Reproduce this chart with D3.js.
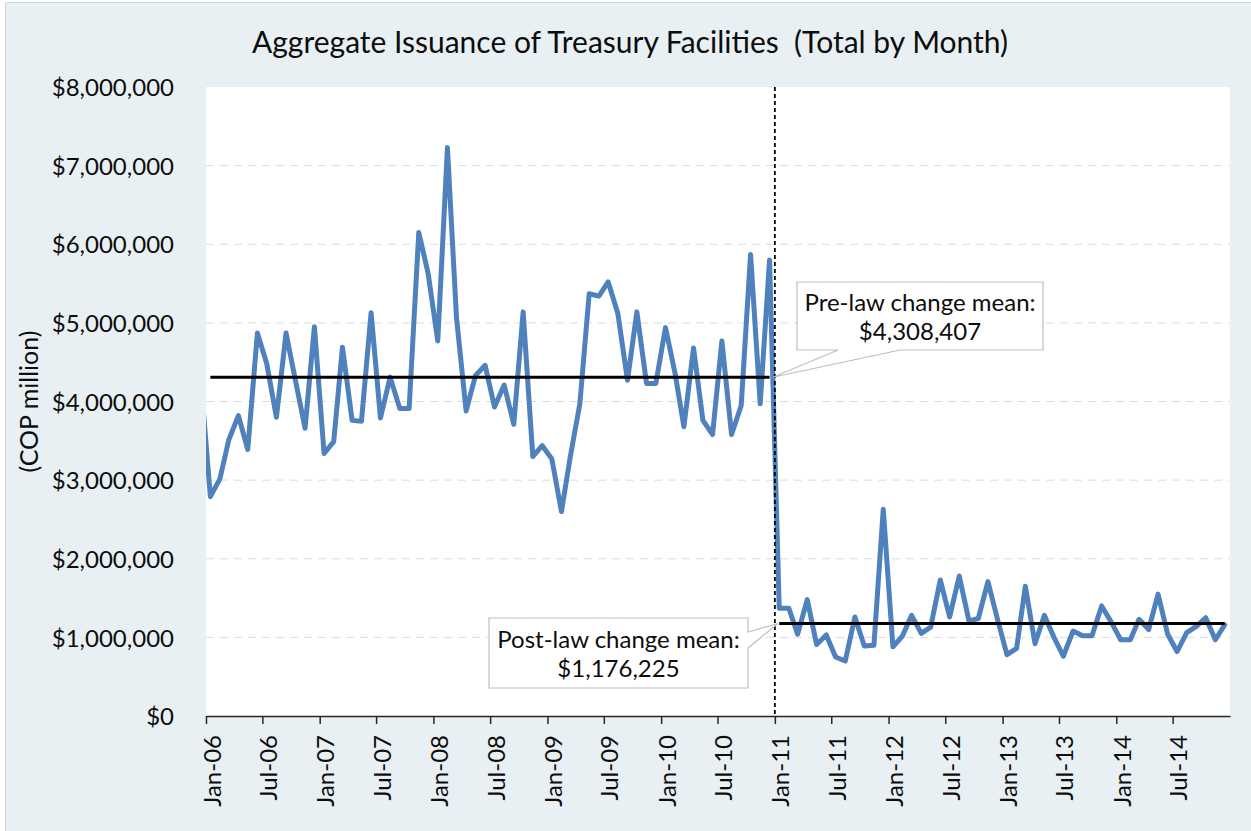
<!DOCTYPE html>
<html>
<head>
<meta charset="utf-8">
<script src="https://cdn.jsdelivr.net/npm/d3@7/dist/d3.min.js"></script>
<style>
  body { margin: 0; background: #fff; }
  text { font-family: Lato, "Noto Sans", sans-serif; fill: #0d0d0d; }
</style>
</head>
<body>
<div id="chart"></div>
<script>
// Monthly issuance (COP million). Series starts Dec-05, which sits just left of the axis.
var firstMonth = "2005-12";
var v2005 = [4300000];
var v2006 = [2790000, 3020000, 3510000, 3820000, 3390000, 4870000, 4480000, 3800000, 4870000, 4270000, 3660000, 4950000];
var v2007 = [3340000, 3490000, 4690000, 3760000, 3750000, 5130000, 3790000, 4310000, 3910000, 3910000, 6150000, 5630000];
var v2008 = [4770000, 7230000, 5070000, 3880000, 4330000, 4460000, 3930000, 4210000, 3710000, 5140000, 3300000, 3440000];
var v2009 = [3270000, 2600000, 3290000, 3970000, 5370000, 5340000, 5520000, 5120000, 4270000, 5140000, 4230000, 4230000];
var v2010 = [4940000, 4350000, 3680000, 4680000, 3760000, 3580000, 4770000, 3580000, 3950000, 5870000, 3970000, 5800000];
var v2011 = [1370000, 1370000, 1040000, 1480000, 910000, 1030000, 750000, 700000, 1260000, 890000, 900000, 2630000];
var v2012 = [880000, 1020000, 1280000, 1050000, 1130000, 1730000, 1260000, 1780000, 1210000, 1240000, 1710000, 1240000];
var v2013 = [780000, 860000, 1650000, 920000, 1280000, 1000000, 760000, 1080000, 1020000, 1020000, 1400000, 1200000];
var v2014 = [970000, 970000, 1230000, 1100000, 1550000, 1040000, 820000, 1060000, 1140000, 1250000, 970000, 1160000];

var lawChange = "2011-01-01";
var axisStart = "2006-01-01", axisEnd = "2015-01-01";
var meanLabels = ["Pre-law change mean:", "Post-law change mean:"];
var meanValues = [4308407, 1176225];
var yTicks = [0, 1000000, 2000000, 3000000, 4000000, 5000000, 6000000, 7000000, 8000000];

var width = 1251, height = 831;
var plot = {left: 206, right: 1230, top: 87, bottom: 716};

var parseDay = d3.timeParse("%Y-%m-%d");
var parseMonth = d3.timeParse("%Y-%m");
var law = parseDay(lawChange);

// points are plotted mid-month on a date axis
var values = [].concat(v2005, v2006, v2007, v2008, v2009, v2010, v2011, v2012, v2013, v2014);
var data = values.map(function(v, i) {
  return {date: d3.timeDay.offset(d3.timeMonth.offset(parseMonth(firstMonth), i), 14), value: v};
});
var pre = data.filter(function(d) { return d.date >= parseDay(axisStart) && d.date < law; });
var post = data.filter(function(d) { return d.date >= law; });

var svg = d3.select("#chart").append("svg")
    .attr("width", width)
    .attr("height", height);

// chart area background
svg.append("rect")
    .attr("x", 5.5).attr("y", 2.5)
    .attr("width", width).attr("height", height)
    .attr("fill", "#e8f0f3")
    .attr("stroke", "#d3d6d8");

svg.append("rect")
    .attr("x", plot.left).attr("y", plot.top)
    .attr("width", plot.right - plot.left).attr("height", plot.bottom - plot.top)
    .attr("fill", "#fff");

svg.append("clipPath").attr("id", "plotclip")
  .append("rect")
    .attr("x", plot.left).attr("y", plot.top - 10)
    .attr("width", plot.right - plot.left).attr("height", plot.bottom - plot.top + 10);

var x = d3.scaleTime()
    .domain([parseDay(axisStart), parseDay(axisEnd)])
    .range([plot.left, plot.right]);

var y = d3.scaleLinear()
    .domain([0, 8000000])
    .range([plot.bottom, plot.top]);

// dashed gridlines
svg.append("g")
  .selectAll("line")
  .data(yTicks.filter(function(t) { return t > 0 && t < 8000000; }))
  .enter().append("line")
    .attr("x1", plot.left).attr("x2", plot.right)
    .attr("y1", function(d) { return y(d); })
    .attr("y2", function(d) { return y(d); })
    .attr("stroke", "#dcdcdc")
    .attr("stroke-width", 1)
    .attr("stroke-dasharray", "8,6");

// Y axis labels
var yAxis = svg.append("g")
    .attr("transform", "translate(" + plot.left + ",0)")
    .call(d3.axisLeft(y).tickValues(yTicks).tickSize(0).tickPadding(32).tickFormat(d3.format("$,.0f")));
yAxis.select(".domain").remove();
yAxis.selectAll("text")
    .attr("font-size", 24)
    .attr("font-family", "Lato, sans-serif")
    .attr("fill", "#0d0d0d")
    .attr("dy", "0.36em");

// X axis, a tick every six months (last one at Jul-14)
var xTicks = d3.timeMonth.every(6).range(parseDay(axisStart), parseDay(axisEnd));
var xAxis = svg.append("g")
    .attr("transform", "translate(0," + plot.bottom + ")")
    .call(d3.axisBottom(x)
      .tickValues(xTicks)
      .tickFormat(d3.timeFormat("%b-%y"))
      .tickSize(8)
      .tickSizeOuter(0));
xAxis.select(".domain").attr("stroke", "#262626").attr("stroke-width", 1.5);
xAxis.selectAll(".tick line").attr("stroke", "#262626").attr("stroke-width", 1.5);
xAxis.selectAll("text")
    .attr("font-size", 24)
    .attr("font-family", "Lato, sans-serif")
    .attr("fill", "#0d0d0d")
    .attr("transform", "rotate(-90)")
    .attr("text-anchor", "end")
    .attr("x", -19)
    .attr("y", 14)
    .attr("dy", "0");

// the series
var line = d3.line()
    .x(function(d) { return x(d.date); })
    .y(function(d) { return y(d.value); });

svg.append("path")
    .datum(data)
    .attr("clip-path", "url(#plotclip)")
    .attr("fill", "none")
    .attr("stroke", "#4f81bd")
    .attr("stroke-width", 5)
    .attr("stroke-linejoin", "round")
    .attr("stroke-linecap", "round")
    .attr("d", line);

// period means
[pre, post].forEach(function(period, k) {
  svg.append("path")
    .datum(period)
    .attr("fill", "none")
    .attr("stroke", "#000")
    .attr("stroke-width", 3)
    .attr("d", d3.line()
      .x(function(d) { return x(d.date); })
      .y(function() { return y(meanValues[k]); }));
});

// law change marker
svg.append("line")
    .attr("x1", x(law)).attr("x2", x(law))
    .attr("y1", plot.top).attr("y2", plot.bottom)
    .attr("stroke", "#000")
    .attr("stroke-width", 1.8)
    .attr("stroke-dasharray", "4,3");

// callouts
var fmt = d3.format("$,.0f");
var preTip = [x(law) - 2, y(meanValues[0])];
var postTip = [x(law) + 3, y(meanValues[1])];

svg.append("path")
    .attr("d", "M797,282H1043V350H900L" + preTip[0] + "," + preTip[1] + "L838,350H797Z")
    .attr("fill", "#fff")
    .attr("stroke", "#bfbfbf")
    .attr("stroke-width", 1.2);

svg.append("path")
    .attr("d", "M489,618H748V632L" + postTip[0] + "," + postTip[1] + "L748,648V688H489Z")
    .attr("fill", "#fff")
    .attr("stroke", "#bfbfbf")
    .attr("stroke-width", 1.2);

var boxes = [{cx: 920, y: 311}, {cx: 618.5, y: 648}];
boxes.forEach(function(b, k) {
  var t = svg.append("text")
      .attr("text-anchor", "middle")
      .attr("font-size", 24);
  t.append("tspan").attr("x", b.cx).attr("y", b.y).text(meanLabels[k]);
  t.append("tspan").attr("x", b.cx).attr("y", b.y + 29).text(fmt(meanValues[k]));
});

// titles
svg.append("text")
    .attr("x", 630)
    .attr("y", 53)
    .attr("text-anchor", "middle")
    .attr("font-size", 30)
    .style("white-space", "pre")
    .text("Aggregate Issuance of Treasury Facilities  (Total by Month)");

svg.append("text")
    .attr("transform", "translate(38," + ((plot.top + plot.bottom) / 2) + ") rotate(-90)")
    .attr("text-anchor", "middle")
    .attr("font-size", 25)
    .text("(COP million)");
</script>
</body>
</html>
